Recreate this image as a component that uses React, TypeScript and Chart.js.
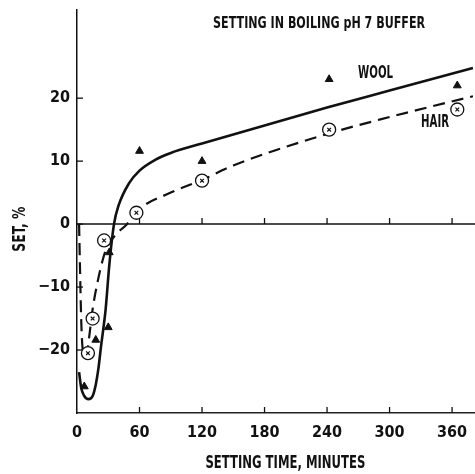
import React, { useEffect, useRef } from 'react';
import { Chart, registerables } from 'chart.js';
Chart.register(...registerables);

const FONT = "'Liberation Sans Narrow', 'DejaVu Sans Condensed', 'Arial Narrow', sans-serif";

// tick values
const xTicks = [0, 60, 120, 180, 240, 300, 360];
const yTicks = [-20, -10, 0, 10, 20];

// measured points (triangles = wool)
const woolX = [7, 18, 30, 31, 60, 120, 242, 365];
const woolY = [-25.8, -18.4, -16.4, -4.5, 11.6, 10, 23, 22];

// measured points (circled x = hair)
const hairX = [10.5, 15, 26, 57, 120, 242, 365];
const hairY = [-20.5, -15, -2.6, 1.8, 6.9, 15, 18.2];

// fitted curves
const woolCurveX = [2, 4, 7, 11, 15, 18, 20.5, 23, 27.5, 31, 35.5, 40, 50, 60, 75, 90, 120, 160, 240, 300, 380];
const woolCurveY = [-23.5, -26, -27.3, -27.8, -27.3, -25.5, -23, -19.5, -13.5, -6.5, 0, 3, 6.5, 8.5, 10.2, 11.3, 12.8, 14.7, 18.5, 21.2, 24.8];

const hairCurveX = [2, 3, 4, 5, 7, 9.5, 12, 15, 20, 25, 28, 32, 40, 47, 57, 90, 120, 150, 240, 300, 380];
const hairCurveY = [0, -8, -15, -19, -21, -20.5, -17.5, -13.5, -9, -5.5, -4, -2.8, -1.2, -0.2, 2, 5, 7, 9.3, 14.3, 17, 20.3];

const TITLE = 'SETTING IN BOILING pH 7 BUFFER';
const WOOL_LABEL = 'WOOL';
const HAIR_LABEL = 'HAIR';
const X_TITLE = 'SETTING TIME, MINUTES';
const Y_TITLE = 'SET, %';

const pts = (xs: number[], ys: number[]) => xs.map((x, i) => ({ x, y: ys[i] }));

// draw condensed text: squeeze horizontally to the given width
function condensed(
  ctx: CanvasRenderingContext2D,
  text: string,
  x: number,
  y: number,
  size: number,
  width: number,
  align: 'left' | 'center',
  rotate = 0
) {
  ctx.save();
  ctx.font = `bold ${size}px ${FONT}`;
  const w = ctx.measureText(text).width;
  const s = width / w;
  ctx.translate(x, y);
  if (rotate) ctx.rotate(rotate);
  ctx.scale(s, 1);
  ctx.textBaseline = 'middle';
  ctx.textAlign = align;
  ctx.fillText(text, 0, 0);
  ctx.restore();
}

const decor = {
  id: 'decor',
  beforeDatasetsDraw(chart: any) {
    const { ctx, scales } = chart;
    const xs = scales.x;
    const ys = scales.y;
    ctx.save();
    ctx.strokeStyle = '#111';
    ctx.lineWidth = 1.5;
    const y0 = ys.getPixelForValue(0);
    ctx.beginPath();
    ctx.moveTo(xs.left, y0);
    ctx.lineTo(xs.right, y0);
    ctx.stroke();
    ctx.lineWidth = 1.3;
    xTicks.forEach((v) => {
      if (v === 0) return;
      const px = xs.getPixelForValue(v);
      ctx.beginPath();
      ctx.moveTo(px, y0);
      ctx.lineTo(px, y0 - 6);
      ctx.moveTo(px, ys.bottom);
      ctx.lineTo(px, ys.bottom - 6);
      ctx.stroke();
    });
    yTicks.forEach((v) => {
      const py = ys.getPixelForValue(v);
      ctx.beginPath();
      ctx.moveTo(xs.left, py);
      ctx.lineTo(xs.left + 6, py);
      ctx.stroke();
    });
    ctx.restore();
  },
  afterDraw(chart: any) {
    const { ctx, scales } = chart;
    const xs = scales.x;
    const ys = scales.y;
    ctx.save();
    ctx.fillStyle = '#111';
    condensed(ctx, TITLE, xs.getPixelForValue(130.6), ys.getPixelForValue(31.8), 16, 212, 'left');
    condensed(ctx, WOOL_LABEL, xs.getPixelForValue(269.8), ys.getPixelForValue(24.0), 18, 35, 'left');
    condensed(ctx, HAIR_LABEL, xs.getPixelForValue(330.2), ys.getPixelForValue(16.2), 18, 28, 'left');
    condensed(ctx, X_TITLE, xs.getPixelForValue(200), chart.height - 10.5, 18, 160, 'center');
    condensed(ctx, Y_TITLE, 20, ys.getPixelForValue(-0.8), 18, 45, 'center', -Math.PI / 2);
    ctx.restore();
  },
};

const noPad = (s: any) => {
  s.paddingTop = 0;
  s.paddingBottom = 0;
  s.paddingLeft = 0;
  s.paddingRight = 0;
};

export default function App() {
  const ref = useRef<HTMLCanvasElement>(null);
  useEffect(() => {
    const chart = new Chart(ref.current as HTMLCanvasElement, {
      type: 'line',
      data: {
        datasets: [
          {
            label: 'Hair x',
            data: pts(hairX, hairY),
            showLine: false,
            pointStyle: 'crossRot',
            pointRadius: 2.6,
            borderColor: '#111',
            borderWidth: 1.2,
            order: 0,
          } as any,
          {
            label: 'Hair',
            data: pts(hairX, hairY),
            showLine: false,
            pointStyle: 'circle',
            pointRadius: 6.5,
            backgroundColor: '#fff',
            borderColor: '#111',
            borderWidth: 1.3,
            order: 1,
          },
          {
            label: 'Wool',
            data: pts(woolX, woolY),
            showLine: false,
            pointStyle: 'triangle',
            pointRadius: 4.5,
            backgroundColor: '#111',
            borderColor: '#111',
            borderWidth: 1,
            order: 2,
          },
          {
            label: 'Wool curve',
            data: pts(woolCurveX, woolCurveY),
            borderColor: '#111',
            borderWidth: 2.6,
            pointRadius: 0,
            cubicInterpolationMode: 'monotone',
            fill: false,
            order: 3,
          },
          {
            label: 'Hair curve',
            data: pts(hairCurveX, hairCurveY),
            borderColor: '#111',
            borderWidth: 2.2,
            borderDash: [12, 7],
            pointRadius: 0,
            cubicInterpolationMode: 'monotone',
            fill: false,
            order: 4,
          },
        ],
      },
      options: {
        responsive: false,
        devicePixelRatio: 1,
        animation: false,
        layout: { autoPadding: false, padding: { top: 10, left: 0, right: 0, bottom: 0 } },
        plugins: {
          legend: { display: false },
          tooltip: { enabled: false },
          title: { display: false },
        },
        scales: {
          x: {
            type: 'linear',
            min: 0,
            max: 382,
            afterBuildTicks: (s: any) => {
              s.ticks = xTicks.map((v) => ({ value: v }));
            },
            afterFit: (s: any) => {
              s.height = 61;
              noPad(s);
            },
            grid: { drawOnChartArea: false, drawTicks: false },
            border: { display: true, color: '#222', width: 1.5 },
            ticks: {
              padding: 10,
              color: '#111',
              font: { family: FONT, size: 16, weight: 'bold' },
              maxRotation: 0,
              autoSkip: false,
            },
            title: { display: false },
          },
          y: {
            type: 'linear',
            min: -30,
            max: 34,
            afterBuildTicks: (s: any) => {
              s.ticks = yTicks.map((v) => ({ value: v }));
            },
            afterFit: (s: any) => {
              s.width = 77;
              noPad(s);
            },
            grid: { drawOnChartArea: false, drawTicks: false },
            border: { display: true, color: '#111', width: 1.5 },
            ticks: {
              padding: 7,
              color: '#111',
              font: { family: FONT, size: 16, weight: 'bold' },
              callback: (v: any) => (v < 0 ? '\u2212' + Math.abs(v) : String(v)),
            },
            title: { display: false },
          },
        },
      } as any,
      plugins: [decor],
    });
    return () => chart.destroy();
  }, []);
  return (
    <div style={{ position: 'fixed', left: 0, top: 0, width: 475, height: 474, background: '#fff' }}>
      <canvas ref={ref} width={475} height={474} style={{ display: 'block' }} />
    </div>
  );
}
